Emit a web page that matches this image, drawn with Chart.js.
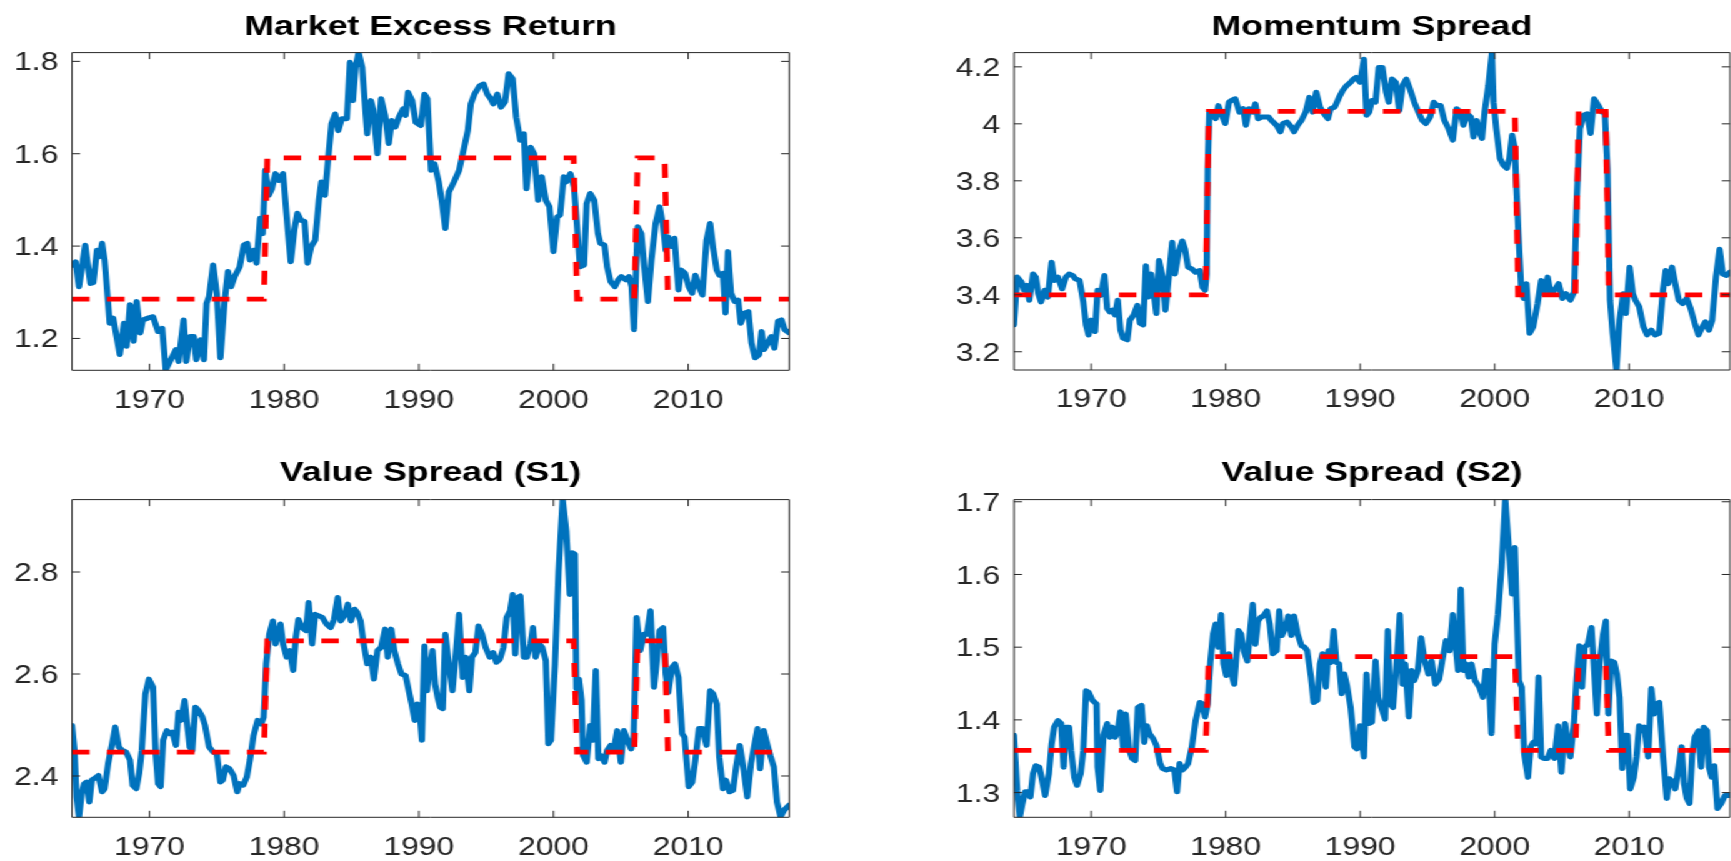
<!DOCTYPE html>
<html>
<head>
<meta charset="utf-8">
<script src="https://cdn.jsdelivr.net/npm/chart.js@4.4.1/dist/chart.umd.min.js"></script>
<style>
  html, body { margin: 0; padding: 0; background: #fff; overflow: hidden; }
  /* the source figure is stretched sideways, so the whole stage is too */
  #stage { position: relative; width: 1385px; height: 861px; transform: scaleX(1.25); transform-origin: 0 0; }
  .panel { position: absolute; }
  .panel canvas { display: block; }
</style>
</head>
<body>
<div id="stage">
  <div class="panel" style="left:0;top:0"><canvas id="c1" width="692" height="430"></canvas></div>
  <div class="panel" style="left:692px;top:0"><canvas id="c2" width="693" height="430"></canvas></div>
  <div class="panel" style="left:0;top:430px"><canvas id="c3" width="692" height="431"></canvas></div>
  <div class="panel" style="left:692px;top:430px"><canvas id="c4" width="693" height="431"></canvas></div>
</div>
<script>
/* ── Data ── */
const yearTicks = [1970, 1980, 1990, 2000, 2010];

const regimeYears = [1964.25, 1978.5, 1978.75, 2001.5, 2001.75, 2006.0, 2006.25, 2008.25, 2008.5, 2017.5];
const regimeState = [0, 0, 1, 1, 0, 0, 1, 1, 0, 0];

const mktTicks = [1.2, 1.4, 1.6, 1.8];
const mktLevels = [1.285, 1.591];
const mktYears = [1964.25,1964.51,1964.77,1965.23,1965.61,1965.83,1966.10,1966.29,1966.48,1966.67,1967.05,1967.31,1967.80,1968.11,1968.30,1968.56,1968.83,1969.05,1969.32,1969.51,1969.89,1970.27,1970.64,1970.95,1971.21,1971.59,1971.97,1972.16,1972.54,1972.73,1973.03,1973.30,1973.48,1973.79,1974.05,1974.24,1974.43,1974.73,1975.00,1975.27,1975.57,1975.83,1976.06,1976.33,1976.70,1977.01,1977.27,1977.46,1977.73,1977.95,1978.22,1978.41,1978.60,1978.86,1979.09,1979.36,1979.62,1979.92,1980.30,1980.49,1980.76,1980.98,1981.25,1981.52,1981.74,1982.01,1982.31,1982.58,1982.77,1983.03,1983.26,1983.52,1983.79,1984.02,1984.28,1984.66,1984.89,1985.11,1985.30,1985.53,1985.80,1985.98,1986.17,1986.44,1986.63,1986.93,1987.20,1987.50,1987.77,1987.99,1988.26,1988.52,1988.83,1989.02,1989.20,1989.51,1989.77,1990.15,1990.42,1990.64,1990.91,1991.17,1991.48,1991.70,1991.97,1992.23,1992.61,1992.99,1993.37,1993.64,1993.86,1994.13,1994.51,1994.81,1995.08,1995.34,1995.53,1995.83,1996.10,1996.40,1996.67,1996.97,1997.23,1997.54,1997.80,1997.99,1998.30,1998.56,1998.86,1999.13,1999.43,1999.70,2000.00,2000.27,2000.49,2000.76,2000.95,2001.25,2001.52,2001.70,2001.97,2002.27,2002.46,2002.73,2003.03,2003.30,2003.48,2003.79,2003.98,2004.24,2004.55,2004.81,2005.04,2005.38,2005.61,2005.80,2005.98,2006.25,2006.52,2006.74,2007.01,2007.27,2007.58,2007.88,2008.14,2008.33,2008.52,2008.79,2008.98,2009.28,2009.47,2009.77,2010.04,2010.30,2010.53,2010.80,2011.06,2011.36,2011.63,2011.86,2012.12,2012.31,2012.58,2012.77,2012.95,2013.18,2013.45,2013.71,2013.90,2014.20,2014.47,2014.70,2014.96,2015.27,2015.45,2015.64,2015.91,2016.17,2016.40,2016.67,2016.93,2017.16,2017.50];
const mktValues = [1.359,1.366,1.312,1.402,1.319,1.321,1.391,1.377,1.406,1.370,1.233,1.244,1.165,1.233,1.183,1.273,1.194,1.280,1.212,1.240,1.244,1.247,1.215,1.222,1.132,1.154,1.176,1.150,1.240,1.150,1.204,1.204,1.154,1.197,1.154,1.276,1.291,1.359,1.298,1.158,1.276,1.345,1.312,1.334,1.355,1.402,1.406,1.370,1.391,1.363,1.460,1.427,1.564,1.510,1.524,1.557,1.542,1.557,1.427,1.366,1.435,1.471,1.456,1.453,1.363,1.399,1.413,1.499,1.539,1.510,1.586,1.665,1.686,1.650,1.676,1.676,1.798,1.715,1.787,1.819,1.787,1.715,1.643,1.715,1.694,1.600,1.719,1.683,1.622,1.672,1.658,1.679,1.697,1.683,1.733,1.715,1.668,1.661,1.729,1.719,1.564,1.578,1.539,1.499,1.438,1.517,1.539,1.564,1.614,1.650,1.708,1.729,1.747,1.751,1.729,1.719,1.708,1.729,1.701,1.712,1.773,1.762,1.679,1.629,1.643,1.524,1.614,1.600,1.499,1.550,1.499,1.485,1.388,1.463,1.467,1.550,1.539,1.557,1.528,1.463,1.355,1.359,1.492,1.514,1.499,1.427,1.406,1.402,1.355,1.323,1.312,1.327,1.334,1.327,1.334,1.312,1.219,1.442,1.427,1.355,1.280,1.370,1.449,1.485,1.442,1.391,1.420,1.399,1.417,1.305,1.348,1.341,1.312,1.298,1.337,1.312,1.294,1.413,1.449,1.395,1.348,1.337,1.341,1.255,1.388,1.298,1.280,1.283,1.233,1.255,1.258,1.190,1.158,1.165,1.215,1.176,1.190,1.204,1.179,1.237,1.240,1.219,1.212];

const momTicks = [3.2, 3.4, 3.6, 3.8, 4, 4.2];
const momLevels = [3.400, 4.044];
const momYears = [1964.25,1964.49,1964.80,1965.00,1965.20,1965.39,1965.67,1965.87,1966.06,1966.26,1966.54,1966.77,1967.05,1967.24,1967.52,1967.83,1968.11,1968.35,1968.62,1968.82,1969.13,1969.41,1969.61,1969.80,1970.00,1970.28,1970.47,1970.71,1970.98,1971.18,1971.38,1971.57,1971.77,1971.97,1972.17,1972.36,1972.68,1972.87,1973.15,1973.43,1973.62,1973.86,1974.06,1974.25,1974.45,1974.65,1974.84,1975.04,1975.31,1975.51,1975.79,1976.02,1976.22,1976.50,1976.77,1976.97,1977.20,1977.48,1977.76,1978.07,1978.27,1978.46,1978.58,1978.66,1978.78,1979.06,1979.25,1979.45,1979.72,1979.96,1980.24,1980.43,1980.71,1981.02,1981.30,1981.50,1981.73,1982.01,1982.20,1982.40,1982.68,1982.99,1983.19,1983.39,1983.78,1984.06,1984.25,1984.57,1984.88,1985.08,1985.35,1985.63,1985.94,1986.22,1986.46,1986.73,1987.01,1987.32,1987.60,1987.80,1988.11,1988.43,1988.70,1988.98,1989.29,1989.49,1989.69,1990.00,1990.28,1990.47,1990.67,1990.87,1991.14,1991.38,1991.65,1991.93,1992.13,1992.36,1992.64,1992.91,1993.15,1993.43,1993.70,1994.02,1994.33,1994.61,1994.88,1995.20,1995.47,1995.71,1995.98,1996.26,1996.57,1996.89,1997.17,1997.44,1997.68,1997.95,1998.23,1998.43,1998.66,1998.86,1999.06,1999.25,1999.53,1999.80,1999.92,2000.12,2000.39,2000.63,2000.91,2001.10,2001.30,2001.50,2001.61,2001.77,2001.97,2002.17,2002.36,2002.60,2002.87,2003.19,2003.46,2003.66,2003.94,2004.17,2004.45,2004.76,2005.04,2005.31,2005.63,2005.91,2006.10,2006.34,2006.61,2006.89,2007.13,2007.40,2007.72,2007.99,2008.19,2008.39,2008.58,2008.78,2009.06,2009.29,2009.57,2009.76,2010.04,2010.28,2010.47,2010.75,2011.06,2011.34,2011.65,2011.93,2012.24,2012.52,2012.72,2012.91,2013.19,2013.43,2013.70,2013.98,2014.29,2014.57,2014.88,2015.16,2015.39,2015.67,2015.94,2016.18,2016.46,2016.73,2016.97,2017.24,2017.50];
const momValues = [3.294,3.462,3.445,3.416,3.433,3.381,3.473,3.462,3.404,3.375,3.416,3.392,3.514,3.450,3.462,3.421,3.462,3.473,3.468,3.456,3.450,3.375,3.294,3.259,3.311,3.271,3.416,3.398,3.468,3.352,3.340,3.346,3.329,3.381,3.276,3.248,3.242,3.311,3.329,3.363,3.300,3.294,3.502,3.392,3.473,3.404,3.334,3.520,3.462,3.346,3.473,3.584,3.473,3.549,3.589,3.560,3.497,3.491,3.479,3.485,3.427,3.416,3.473,3.844,4.041,4.030,4.018,4.064,4.030,4.001,4.076,4.082,4.088,4.041,4.053,3.995,4.053,4.041,4.070,4.018,4.024,4.024,4.024,4.012,3.995,3.972,4.001,4.006,3.989,3.972,3.995,4.012,4.041,4.093,4.041,4.111,4.059,4.035,4.018,4.053,4.059,4.093,4.117,4.134,4.146,4.157,4.163,4.146,4.227,4.030,4.041,4.082,4.076,4.198,4.198,4.111,4.076,4.157,4.146,4.047,4.134,4.157,4.122,4.076,4.041,4.012,4.001,4.024,4.076,4.064,4.064,4.012,3.983,3.943,4.053,4.041,3.995,4.035,4.024,3.954,4.012,3.972,3.949,4.041,4.134,4.250,4.076,3.983,3.879,3.856,3.844,3.879,3.960,3.914,3.786,3.613,3.427,3.387,3.439,3.265,3.288,3.369,3.450,3.404,3.462,3.404,3.416,3.439,3.387,3.404,3.381,3.410,3.728,3.983,4.030,4.035,3.966,4.088,4.064,4.041,4.041,3.844,3.381,3.265,3.137,3.311,3.404,3.334,3.497,3.404,3.381,3.358,3.288,3.259,3.276,3.259,3.265,3.416,3.485,3.439,3.497,3.439,3.381,3.369,3.387,3.352,3.300,3.259,3.282,3.305,3.276,3.311,3.462,3.560,3.473,3.468,3.479];

const vs1Ticks = [2.4, 2.6, 2.8];
const vs1Levels = [2.447, 2.665];
const vs1Years = [1964.25,1964.43,1964.58,1964.77,1964.96,1965.15,1965.34,1965.53,1965.72,1965.91,1966.21,1966.48,1966.67,1966.93,1967.23,1967.46,1967.73,1967.99,1968.26,1968.56,1968.75,1969.02,1969.24,1969.43,1969.70,1969.96,1970.27,1970.45,1970.64,1970.83,1971.02,1971.29,1971.52,1971.70,1971.97,1972.16,1972.35,1972.61,1972.80,1972.99,1973.18,1973.41,1973.67,1973.94,1974.13,1974.43,1974.73,1975.00,1975.27,1975.45,1975.68,1975.95,1976.25,1976.52,1976.70,1976.97,1977.23,1977.46,1977.73,1978.03,1978.30,1978.48,1978.67,1978.90,1979.17,1979.36,1979.55,1979.73,1979.92,1980.19,1980.42,1980.68,1980.87,1981.06,1981.33,1981.63,1981.82,1982.08,1982.31,1982.58,1982.84,1983.14,1983.45,1983.71,1983.98,1984.20,1984.47,1984.73,1984.96,1985.23,1985.42,1985.68,1985.91,1986.17,1986.44,1986.67,1986.93,1987.20,1987.50,1987.69,1987.95,1988.18,1988.45,1988.71,1989.02,1989.20,1989.47,1989.70,1989.89,1990.04,1990.23,1990.42,1990.61,1990.80,1991.02,1991.21,1991.40,1991.59,1991.78,1991.97,1992.23,1992.50,1992.73,1992.99,1993.26,1993.48,1993.75,1993.94,1994.20,1994.43,1994.70,1994.96,1995.27,1995.53,1995.76,1996.02,1996.29,1996.52,1996.78,1996.97,1997.16,1997.35,1997.54,1997.80,1998.03,1998.30,1998.48,1998.67,1998.94,1999.17,1999.43,1999.62,1999.81,2000.11,2000.38,2000.68,2000.95,2001.21,2001.40,2001.59,2001.70,2001.89,2002.08,2002.20,2002.46,2002.73,2002.92,2003.14,2003.33,2003.52,2003.79,2003.98,2004.24,2004.47,2004.73,2005.00,2005.23,2005.49,2005.76,2005.95,2006.17,2006.44,2006.70,2006.93,2007.20,2007.46,2007.65,2007.88,2008.14,2008.33,2008.52,2008.79,2009.02,2009.28,2009.55,2009.73,2010.04,2010.30,2010.53,2010.80,2011.06,2011.36,2011.63,2011.86,2012.12,2012.31,2012.58,2012.80,2013.07,2013.33,2013.56,2013.83,2014.09,2014.39,2014.66,2014.89,2015.15,2015.34,2015.61,2015.83,2016.10,2016.36,2016.59,2016.86,2017.12,2017.50];
const vs1Values = [2.499,2.450,2.359,2.320,2.365,2.385,2.388,2.349,2.392,2.395,2.401,2.369,2.375,2.424,2.463,2.496,2.457,2.450,2.447,2.431,2.382,2.375,2.405,2.450,2.561,2.590,2.574,2.450,2.385,2.379,2.470,2.489,2.483,2.486,2.460,2.525,2.509,2.548,2.502,2.457,2.450,2.535,2.528,2.515,2.499,2.457,2.447,2.444,2.388,2.392,2.418,2.414,2.401,2.369,2.385,2.382,2.398,2.431,2.479,2.509,2.502,2.515,2.620,2.678,2.704,2.659,2.678,2.698,2.659,2.633,2.646,2.607,2.672,2.707,2.691,2.685,2.740,2.659,2.717,2.714,2.711,2.698,2.691,2.707,2.750,2.704,2.714,2.737,2.704,2.727,2.721,2.704,2.659,2.620,2.633,2.590,2.646,2.652,2.688,2.633,2.688,2.646,2.620,2.600,2.597,2.574,2.541,2.509,2.541,2.535,2.470,2.655,2.567,2.607,2.646,2.580,2.554,2.535,2.532,2.678,2.620,2.567,2.633,2.717,2.593,2.633,2.567,2.633,2.642,2.694,2.678,2.652,2.633,2.642,2.623,2.629,2.652,2.711,2.724,2.756,2.639,2.750,2.753,2.633,2.633,2.659,2.691,2.633,2.659,2.652,2.626,2.463,2.470,2.620,2.802,2.942,2.880,2.756,2.838,2.835,2.571,2.590,2.548,2.440,2.427,2.499,2.470,2.607,2.434,2.440,2.427,2.450,2.460,2.450,2.489,2.427,2.489,2.470,2.453,2.476,2.711,2.646,2.678,2.678,2.724,2.574,2.620,2.685,2.691,2.600,2.564,2.613,2.620,2.593,2.483,2.476,2.379,2.388,2.431,2.493,2.493,2.460,2.567,2.561,2.541,2.437,2.375,2.392,2.369,2.372,2.418,2.460,2.418,2.359,2.424,2.457,2.493,2.414,2.489,2.466,2.440,2.418,2.349,2.320,2.333,2.343];

const vs2Ticks = [1.3, 1.4, 1.5, 1.6, 1.7];
const vs2Levels = [1.358, 1.487];
const vs2Years = [1964.25,1964.49,1964.69,1964.88,1965.08,1965.28,1965.47,1965.67,1965.87,1966.14,1966.34,1966.57,1966.85,1967.05,1967.24,1967.52,1967.76,1967.95,1968.11,1968.35,1968.50,1968.74,1968.94,1969.21,1969.41,1969.61,1969.80,1970.08,1970.39,1970.47,1970.67,1970.91,1971.18,1971.38,1971.57,1971.77,1971.97,1972.17,1972.36,1972.56,1972.83,1973.03,1973.27,1973.46,1973.74,1973.94,1974.13,1974.33,1974.61,1974.84,1975.12,1975.31,1975.59,1975.91,1976.18,1976.38,1976.57,1976.77,1977.01,1977.20,1977.48,1977.76,1978.07,1978.27,1978.46,1978.66,1978.86,1979.06,1979.25,1979.45,1979.65,1979.84,1980.04,1980.24,1980.43,1980.63,1980.94,1981.14,1981.34,1981.61,1981.81,1982.01,1982.20,1982.40,1982.60,1982.80,1983.07,1983.27,1983.50,1983.78,1983.98,1984.17,1984.45,1984.65,1984.88,1985.08,1985.35,1985.63,1985.87,1986.06,1986.34,1986.54,1986.81,1987.01,1987.20,1987.44,1987.64,1987.83,1988.03,1988.23,1988.43,1988.62,1988.82,1989.02,1989.29,1989.57,1989.76,1990.00,1990.28,1990.47,1990.67,1990.87,1991.14,1991.34,1991.57,1991.85,1992.05,1992.24,1992.44,1992.72,1992.95,1993.15,1993.35,1993.62,1993.82,1994.02,1994.29,1994.53,1994.80,1995.08,1995.31,1995.59,1995.87,1996.10,1996.38,1996.65,1996.89,1997.09,1997.28,1997.48,1997.68,1997.87,1998.07,1998.27,1998.54,1998.86,1999.13,1999.33,1999.53,1999.76,2000.00,2000.24,2000.51,2000.79,2001.02,2001.18,2001.30,2001.50,2001.61,2001.81,2002.01,2002.20,2002.48,2002.68,2002.87,2003.07,2003.27,2003.46,2003.66,2003.94,2004.17,2004.45,2004.72,2004.96,2005.24,2005.43,2005.63,2005.91,2006.10,2006.30,2006.50,2006.69,2006.93,2007.20,2007.40,2007.60,2007.80,2008.07,2008.27,2008.46,2008.66,2008.90,2009.09,2009.29,2009.49,2009.69,2009.88,2010.08,2010.35,2010.55,2010.75,2010.94,2011.14,2011.42,2011.65,2011.85,2012.05,2012.24,2012.52,2012.80,2012.99,2013.23,2013.43,2013.70,2013.90,2014.09,2014.29,2014.49,2014.69,2014.88,2015.16,2015.35,2015.55,2015.79,2015.94,2016.14,2016.34,2016.57,2016.85,2017.13,2017.50];
const vs2Values = [1.379,1.303,1.267,1.285,1.301,1.301,1.294,1.326,1.337,1.335,1.317,1.296,1.326,1.367,1.390,1.399,1.395,1.335,1.390,1.390,1.358,1.321,1.310,1.326,1.358,1.440,1.438,1.427,1.422,1.335,1.303,1.379,1.395,1.376,1.390,1.376,1.385,1.411,1.363,1.408,1.358,1.347,1.344,1.417,1.420,1.369,1.392,1.381,1.374,1.365,1.340,1.333,1.331,1.333,1.331,1.301,1.340,1.331,1.335,1.340,1.363,1.399,1.424,1.422,1.404,1.422,1.481,1.518,1.532,1.500,1.545,1.477,1.461,1.491,1.463,1.449,1.523,1.518,1.495,1.481,1.523,1.559,1.504,1.536,1.541,1.543,1.550,1.532,1.491,1.495,1.550,1.516,1.527,1.543,1.516,1.543,1.518,1.502,1.500,1.495,1.459,1.424,1.427,1.477,1.491,1.445,1.495,1.479,1.523,1.479,1.477,1.436,1.463,1.447,1.417,1.363,1.360,1.392,1.349,1.463,1.395,1.397,1.481,1.431,1.417,1.401,1.523,1.422,1.417,1.481,1.545,1.449,1.477,1.404,1.468,1.454,1.468,1.513,1.481,1.463,1.481,1.449,1.456,1.481,1.509,1.495,1.545,1.504,1.468,1.580,1.468,1.477,1.459,1.477,1.454,1.445,1.431,1.468,1.468,1.381,1.504,1.545,1.609,1.703,1.646,1.605,1.573,1.637,1.568,1.454,1.445,1.353,1.321,1.363,1.369,1.367,1.459,1.349,1.347,1.347,1.358,1.347,1.392,1.328,1.395,1.367,1.349,1.399,1.459,1.502,1.445,1.500,1.504,1.527,1.468,1.408,1.477,1.518,1.536,1.408,1.481,1.479,1.463,1.431,1.333,1.379,1.379,1.305,1.321,1.349,1.392,1.385,1.390,1.349,1.443,1.408,1.422,1.424,1.351,1.292,1.319,1.315,1.305,1.337,1.363,1.312,1.292,1.285,1.351,1.376,1.385,1.335,1.390,1.385,1.335,1.321,1.337,1.278,1.285,1.296,1.296];

/* ── Style ── */
const BLUE = '#0072BD';
const RED = '#FF0000';
const AXIS = '#262626';
Chart.defaults.font.family = "'Liberation Sans', Arial, Helvetica, sans-serif";

/* ── Box with inward ticks, drawn over the lines ── */
const axesBox = {
  id: 'axesBox',
  afterDatasetsDraw(chart) {
    const { ctx, chartArea: a, scales: { x, y } } = chart;
    const tl = 6.5;
    ctx.save();
    ctx.strokeStyle = AXIS;
    ctx.lineWidth = 1;
    ctx.beginPath();
    x.ticks.forEach(t => {
      const px = x.getPixelForValue(t.value);
      ctx.moveTo(px, a.bottom); ctx.lineTo(px, a.bottom - tl);
      ctx.moveTo(px, a.top); ctx.lineTo(px, a.top + tl);
    });
    y.ticks.forEach(t => {
      const py = y.getPixelForValue(t.value);
      ctx.moveTo(a.left, py); ctx.lineTo(a.left + tl, py);
      ctx.moveTo(a.right, py); ctx.lineTo(a.right - tl, py);
    });
    ctx.rect(a.left, a.top, a.right - a.left, a.bottom - a.top);
    ctx.stroke();
    ctx.restore();
  }
};

/* ── Panels ── */
function drawPanel(id, cfg) {
  const series = cfg.years.map((x, i) => ({ x, y: cfg.values[i] }));
  const regime = regimeYears.map((x, i) => ({ x, y: cfg.levels[regimeState[i]] }));
  new Chart(document.getElementById(id), {
    type: 'line',
    data: {
      datasets: [
        { data: regime, borderColor: RED, borderWidth: 4.7, borderDash: [14, 14], borderCapStyle: 'butt', borderJoinStyle: 'miter', pointRadius: 0, tension: 0, clip: 0, order: 0 },
        { data: series, borderColor: BLUE, borderWidth: 5, borderJoinStyle: 'round', borderCapStyle: 'round', pointRadius: 0, tension: 0, clip: 0, order: 1 }
      ]
    },
    options: {
      responsive: false,
      animation: false,
      events: [],
      layout: { padding: { left: 0, right: cfg.padRight, top: 0, bottom: 0 } },
      plugins: {
        legend: { display: false },
        tooltip: { enabled: false },
        title: {
          display: true, text: cfg.title, color: '#000', fullSize: false,
          font: { size: 28.5, weight: 'bold' },
          padding: { top: cfg.titleTop, bottom: cfg.titleBottom }
        }
      },
      scales: {
        x: {
          type: 'linear', min: 1964.25, max: 2017.5,
          grid: { display: false, drawTicks: false }, border: { display: false },
          afterBuildTicks: s => { s.ticks = yearTicks.map(v => ({ value: v })); },
          afterFit: s => { s.height = cfg.xHeight; },
          ticks: { color: AXIS, font: { size: 25.5 }, padding: 15, maxRotation: 0, autoSkip: false, callback: v => String(v) }
        },
        y: {
          min: cfg.min, max: cfg.max,
          grid: { display: false, drawTicks: false }, border: { display: false },
          afterBuildTicks: s => { s.ticks = cfg.ticks.map(v => ({ value: v })); },
          afterFit: s => { s.width = cfg.yWidth; },
          ticks: { color: AXIS, font: { size: 25.5 }, padding: 11, labelOffset: 2, autoSkip: false, callback: v => String(v) }
        }
      }
    },
    plugins: [axesBox]
  });
}

drawPanel('c1', { title: 'Market Excess Return', years: mktYears, values: mktValues, levels: mktLevels, ticks: mktTicks,
  min: 1.131, max: 1.819, yWidth: 57.6, padRight: 60.6, titleTop: 10, titleBottom: 8.4, xHeight: 59.7 });
drawPanel('c2', { title: 'Momentum Spread', years: momYears, values: momValues, levels: momLevels, ticks: momTicks,
  min: 3.136, max: 4.25, yWidth: 119.2, padRight: 1, titleTop: 10, titleBottom: 8.4, xHeight: 60 });
drawPanel('c3', { title: 'Value Spread (S1)', years: vs1Years, values: vs1Values, levels: vs1Levels, ticks: vs1Ticks,
  min: 2.319, max: 2.942, yWidth: 57.6, padRight: 60.6, titleTop: 26.2, titleBottom: 9.2, xHeight: 43.7 });
drawPanel('c4', { title: 'Value Spread (S2)', years: vs2Years, values: vs2Values, levels: vs2Levels, ticks: vs2Ticks,
  min: 1.266, max: 1.703, yWidth: 119.2, padRight: 1, titleTop: 26.2, titleBottom: 9.2, xHeight: 43.7 });
</script>
</body>
</html>
